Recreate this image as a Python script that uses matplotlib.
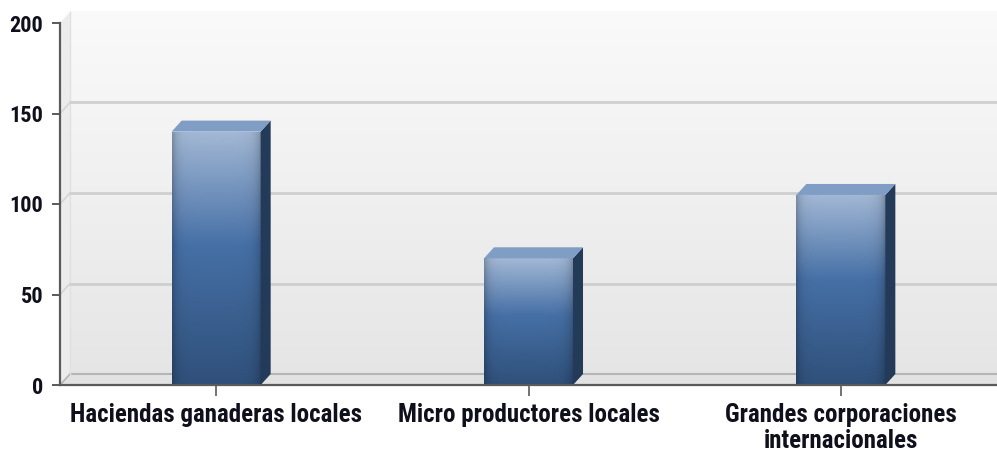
import numpy as np
import matplotlib.pyplot as plt
from matplotlib.patches import Polygon

# data
categories = ['Haciendas ganaderas locales', 'Micro productores locales',
              'Grandes corporaciones\ninternacionales']
values = [140, 70, 105]
yticks = [0, 50, 100, 150, 200]

plt.rcParams['font.family'] = ['Liberation Sans Narrow', 'Roboto Condensed',
                               'Liberation Sans', 'DejaVu Sans']

W, H = 997, 454
fig = plt.figure(figsize=(W / 100, H / 100), dpi=100)
ax = fig.add_axes([60 / W, (H - 385) / H, (W - 60) / W, (385 - 23) / H])

x = np.arange(len(categories))
bw = 0.285
dx = 10 / 312.3    # depth offset in data units
dy = 11 / 1.81

# back wall with vertical gradient
wall = np.linspace(0.98, 0.90, 256).reshape(-1, 1)
ax.imshow(np.dstack([wall] * 3), extent=(-0.5 + dx, 2.6 + dx, dy, 200 + dy),
          aspect='auto', origin='upper', zorder=0, clip_on=False, interpolation='bilinear')
ax.add_patch(Polygon([(-0.5, 0), (-0.5 + dx, dy), (-0.5 + dx, 200 + dy), (-0.5, 200)],
                     closed=True, fc='#ececec', ec='none', zorder=0.5, clip_on=False))
ax.add_patch(Polygon([(-0.5, 0), (2.6, 0), (2.6 + dx, dy), (-0.5 + dx, dy)],
                     closed=True, fc='#e2e2e2', ec='none', zorder=0.6, clip_on=False))
ax.plot([-0.5 + dx, 2.6 + dx], [dy, dy], color='#b5b5b5', lw=1.5, zorder=0.7, clip_on=False)
ax.plot([-0.5, -0.5 + dx], [0, dy], color='#b5b5b5', lw=1.2, zorder=0.7, clip_on=False)
ax.plot([-0.5 + dx, -0.5 + dx], [dy, 200 + dy], color='#e0e0e0', lw=1, zorder=0.7, clip_on=False)

for v in yticks[1:-1]:
    ax.plot([-0.5 + dx, 2.6 + dx], [v + dy, v + dy], color='#cfcfcf', lw=2, zorder=0.8, clip_on=False)
    ax.plot([-0.5, -0.5 + dx], [v, v + dy], color='#d4d4d4', lw=1.2, zorder=0.8, clip_on=False)

# bar gradient: vertical colour stops times darker edges
stops = np.array([0.0, 0.45, 1.0])
cols = np.array([[163, 184, 213], [70, 112, 166], [47, 80, 122]]) / 255
t = np.linspace(0, 1, 200)
vert = np.stack([np.interp(t, stops, cols[:, i]) for i in range(3)], axis=1)
s = np.linspace(0, 1, 60)
edge = 1 - 0.22 * np.exp(-s / 0.05) - 0.25 * np.exp(-(1 - s) / 0.06)
grad = vert[:, None, :] * edge[None, :, None]

bars = ax.bar(x, values, width=bw, color='none', zorder=3)
for xi, v, b in zip(x, values, bars):
    l, r = xi - bw / 2, xi + bw / 2
    im = ax.imshow(grad, extent=(l, r, 0, v), aspect='auto', origin='upper',
                   zorder=3, interpolation='bilinear')
    im.set_clip_path(b)
    ax.add_patch(Polygon([(r, 0), (r + dx, dy), (r + dx, v + dy), (r, v)],
                         closed=True, fc='#233a59', ec='none', zorder=3.1))
    ax.add_patch(Polygon([(l, v), (l + dx, v + dy), (r + dx, v + dy), (r, v)],
                         closed=True, fc='#7f9dc5', ec='none', zorder=3.1))

ax.set_xlim(-0.5, 2.5)
ax.set_ylim(0, 200)
ax.set_facecolor('none')
for side in ['top', 'right']:
    ax.spines[side].set_visible(False)
for side in ['left', 'bottom']:
    ax.spines[side].set_color('#5a5a5a')
    ax.spines[side].set_linewidth(1.6)
    ax.spines[side].set_zorder(5)

ax.set_yticks(yticks)
ax.set_xticks(x)
ax.set_xticklabels(categories)
ax.tick_params(axis='y', length=6, width=1.4, color='#5a5a5a', pad=6,
               labelsize=16, labelcolor='#10101c')
ax.tick_params(axis='x', length=8, width=1.2, color='#5a5a5a', pad=5,
               labelsize=18, labelcolor='#10101c')
for lab in ax.get_xticklabels() + ax.get_yticklabels():
    lab.set_fontweight('bold')
for lab in ax.get_xticklabels():
    lab.set_linespacing(1.08)

fig.savefig('out.png', dpi=100)
